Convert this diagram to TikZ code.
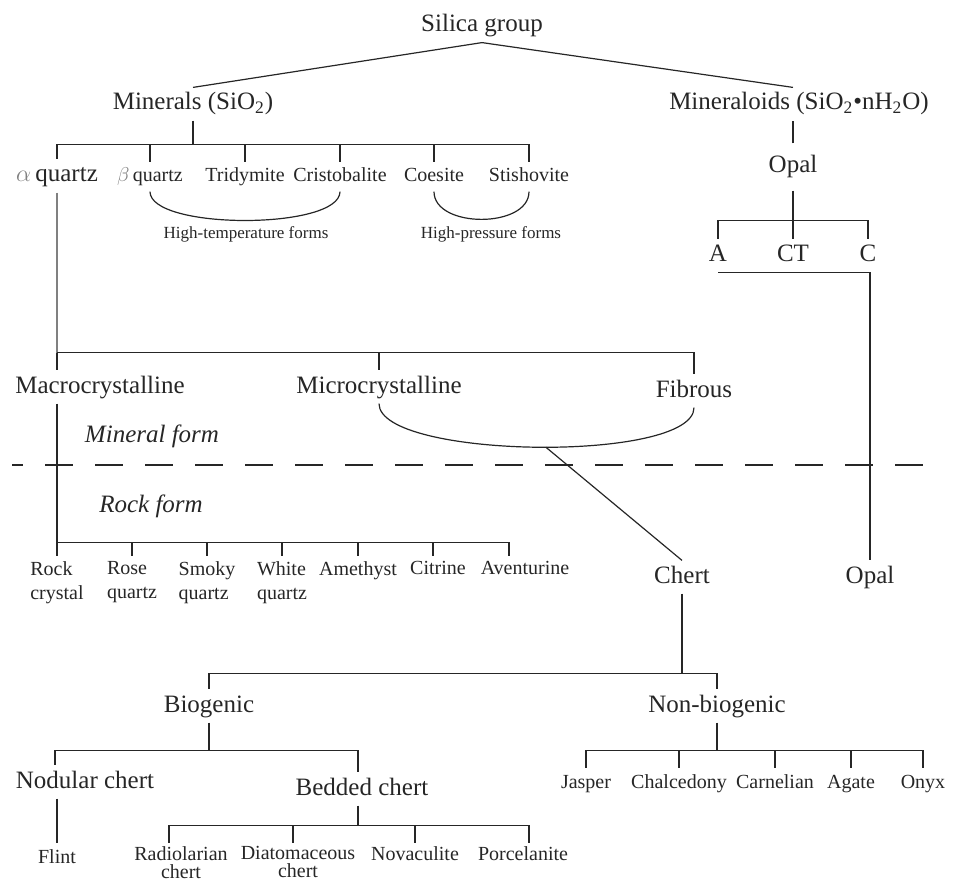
\documentclass[tikz,border=0pt]{standalone}
\usepackage{fontspec}
\setmainfont{Liberation Serif}
\begin{document}
\begin{tikzpicture}[x = 0.5pt, y = -0.5pt, line width = 0.6pt, color = black!85,
	big/.style = {font = \fontsize{12.5}{15}\selectfont, anchor = base, text height = 8.5pt, text depth = 2.5pt, inner ysep = 2.5pt},
	small/.style = {font = \fontsize{10}{12}\selectfont, anchor = base, text height = 7pt, text depth = 2pt, inner ysep = 2.5pt},
	note/.style = {font = \fontsize{8.5}{10}\selectfont, anchor = base},
	form/.style = {big, font = \fontsize{12.5}{15}\selectfont\itshape},
	twoline/.style = {font = \fontsize{10}{12}\selectfont, anchor = north, align = left, inner ysep = 2.5pt},
	leaf/.style = {font = \fontsize{10}{9}\selectfont, anchor = north, align = center, inner ysep = 1.5pt},
	divider/.style = {dash pattern = on 14pt off 11pt, dash phase = 8.5pt}]

\useasboundingbox (0, 0) rectangle (954, 883);

\node (silica) [big] at (482, 32) {Silica group};
\node (minerals) [big] at (193, 110) {Minerals (SiO\textsubscript{2})};
\node (mineraloids) [big] at (799, 110) {Mineraloids (SiO\textsubscript{2}\textbullet{}nH\textsubscript{2}O)};

\node (aquartz) [big] at (57, 182) {\textcolor{gray}{$\alpha$}\,quartz};
\node (bquartz) [small] at (150, 182) {\textcolor{gray}{$\beta$}\,quartz};
\node (tridymite) [small] at (245, 182) {Tridymite};
\node (cristobalite) [small] at (340, 182) {Cristobalite};
\node (coesite) [small] at (434, 182) {Coesite};
\node (stishovite) [small] at (529, 182) {Stishovite};

\node (htforms) [note] at (246, 238) {High-temperature forms};
\node (hpforms) [note] at (491, 238) {High-pressure forms};

\node (opal) [big, inner ysep = 6pt] at (793, 173) {Opal};
\node (opala) [big] at (718, 262) {A};
\node (opalct) [big] at (793, 262) {CT};
\node (opalc) [big] at (868, 262) {C};

\node (macro) [big] at (100, 393) {Macrocrystalline};
\node (micro) [big] at (379, 393) {Microcrystalline};
\node (fibrous) [big] at (694, 397) {Fibrous};

\node (mineralform) [form] at (152, 442) {Mineral form};
\node (rockform) [form] at (151, 512) {Rock form};

\node (rockcrystal) [twoline] at (57, 556) {Rock\\crystal};
\node (rosequartz) [twoline] at (132, 556) {Rose\\quartz};
\node (smokyquartz) [twoline] at (207, 556) {Smoky\\quartz};
\node (whitequartz) [twoline] at (282, 556) {White\\quartz};
\node (amethyst) [twoline] at (358, 556) {Amethyst};
\node (citrine) [twoline] at (438, 556) {Citrine};
\node (aventurine) [twoline] at (525, 556) {Aventurine};

\node (chert) [big] at (682, 583) {Chert};
\node (opalrock) [big] at (870, 583) {Opal};

\node (biogenic) [big] at (209, 712) {Biogenic};
\node (nonbiogenic) [big] at (717, 712) {Non-biogenic};

\node (nodular) [big] at (85, 788) {Nodular chert};
\node (bedded) [big] at (362, 795) {Bedded chert};

\node (jasper) [small] at (586, 788) {Jasper};
\node (chalcedony) [small] at (679, 788) {Chalcedony};
\node (carnelian) [small] at (775, 788) {Carnelian};
\node (agate) [small] at (851, 788) {Agate};
\node (onyx) [small] at (923, 788) {Onyx};

\node (flint) [small] at (57, 863) {Flint};
\node (radiolarian) [leaf] at (181, 843) {Radiolarian\\chert};
\node (diatomaceous) [leaf] at (298, 843) {Diatomaceous\\chert};
\node (novaculite) [leaf] at (415, 843) {Novaculite};
\node (porcelanite) [leaf] at (523, 843) {Porcelanite};

\draw (silica.south) -- (minerals.north);
\draw (silica.south) -- (opal.north |- mineraloids.north);

\draw (minerals.south) -- ++(0, 24) -| (aquartz.north);
\draw (minerals.south) ++(0, 24) -| (bquartz.north);
\draw (minerals.south) ++(0, 24) -| (tridymite.north);
\draw (minerals.south) ++(0, 24) -| (cristobalite.north);
\draw (minerals.south) ++(0, 24) -| (coesite.north);
\draw (minerals.south) ++(0, 24) -| (stishovite.north);

\draw (bquartz.south) to [out = -90, in = -90, looseness = 0.52] (cristobalite.south);
\draw (coesite.south) to [out = -90, in = -90] (stishovite.south);

\draw (opal.north) -- (opal.north |- mineraloids.south);
\draw (opal.south) -- ++(0, 30) -| (opala.north);
\draw (opal.south) ++(0, 30) -| (opalct.north);
\draw (opal.south) ++(0, 30) -| (opalc.north);
\draw (opala.south) -| (opalrock.north);

\draw [gray] (aquartz.south) -- ++(0, 160);
\draw (aquartz.south) ++(0, 160) -| ([xshift = -21.5pt] macro.north);
\draw (aquartz.south) ++(0, 160) -| (micro.north);
\draw (aquartz.south) ++(0, 160) -| (fibrous.north);

\draw (micro.south) to [out = -90, in = -90, looseness = 0.45] coordinate [pos = 0.52] (fork) (fibrous.south);
\draw (fork) -- (chert.north);

\draw [divider] (12, 465) -- (932, 465);

\draw ([xshift = -21.5pt] macro.south) -- ++(0, 139) -| (rockcrystal.north);
\draw ([xshift = -21.5pt] macro.south) ++(0, 139) -| (rosequartz.north);
\draw ([xshift = -21.5pt] macro.south) ++(0, 139) -| (smokyquartz.north);
\draw ([xshift = -21.5pt] macro.south) ++(0, 139) -| (whitequartz.north);
\draw ([xshift = -21.5pt] macro.south) ++(0, 139) -| (amethyst.north);
\draw ([xshift = -21.5pt] macro.south) ++(0, 139) -| ([xshift = -2.5pt] citrine.north);
\draw ([xshift = -21.5pt] macro.south) ++(0, 139) -| ([xshift = -8pt] aventurine.north);

\draw (chert.south) -- ++(0, 80) -| (biogenic.north);
\draw (chert.south) ++(0, 80) -| (nonbiogenic.north);

\draw (biogenic.south) -- ++(0, 28) -| ([xshift = -15pt] nodular.north);
\draw (biogenic.south) ++(0, 28) -| ([xshift = -2pt] bedded.north);
\draw ([xshift = -14pt] nodular.south) -- (flint.north);

\draw ([xshift = -2pt] bedded.south) -- ++(0, 20) -| ([xshift = -6pt] radiolarian.north);
\draw ([xshift = -2pt] bedded.south) ++(0, 20) -| ([xshift = -2.5pt] diatomaceous.north);
\draw ([xshift = -2pt] bedded.south) ++(0, 20) -| (novaculite.north);
\draw ([xshift = -2pt] bedded.south) ++(0, 20) -| ([xshift = 3pt] porcelanite.north);

\draw (nonbiogenic.south) -- ++(0, 28) -| (jasper.north);
\draw (nonbiogenic.south) ++(0, 28) -| (chalcedony.north);
\draw (nonbiogenic.south) ++(0, 28) -| (carnelian.north);
\draw (nonbiogenic.south) ++(0, 28) -| (agate.north);
\draw (nonbiogenic.south) ++(0, 28) -| (onyx.north);

\end{tikzpicture}
\end{document}
